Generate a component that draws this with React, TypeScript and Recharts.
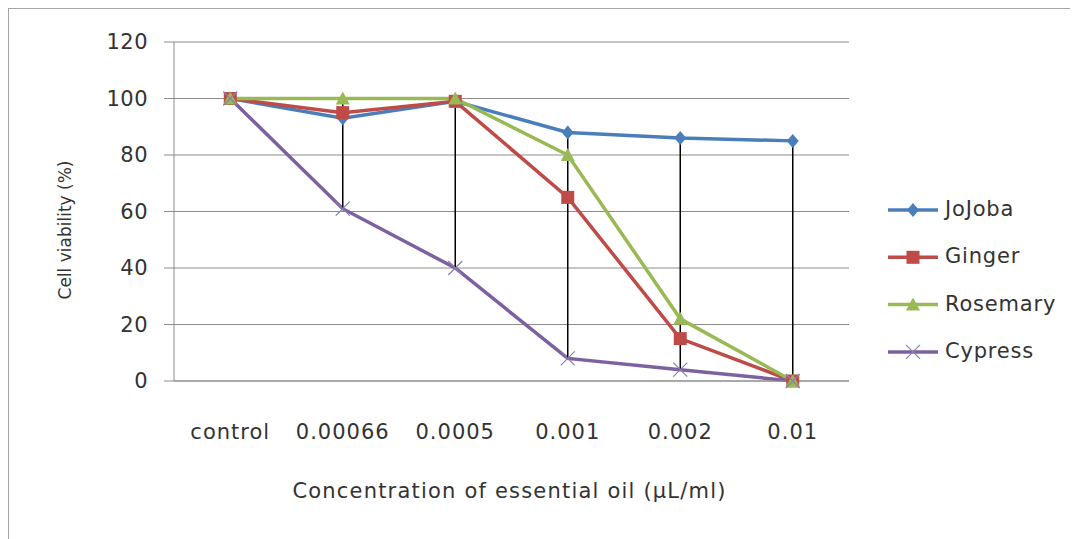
import React from 'react';
import { ComposedChart, Line, XAxis, YAxis, CartesianGrid, ErrorBar } from 'recharts';

const categories = ['control', '0.00066', '0.0005', '0.001', '0.002', '0.01'];
const jojoba = [100, 93, 99, 88, 86, 85];
const ginger = [100, 95, 99, 65, 15, 0];
const rosemary = [100, 100, 100, 80, 22, 0];
const cypress = [100, 61, 40, 8, 4, 0];
const yTicks = [0, 20, 40, 60, 80, 100, 120];
const seriesNames = ['JoJoba', 'Ginger', 'Rosemary', 'Cypress'];
const seriesColors = ['#4a7ebb', '#be4b48', '#98b954', '#7d60a0'];

const allSeries = [jojoba, ginger, rosemary, cypress];

const data = categories.map((name, i) => {
  const vals = allSeries.map((s) => s[i]);
  const hi = Math.max(...vals);
  const lo = Math.min(...vals);
  return {
    name,
    JoJoba: jojoba[i],
    Ginger: ginger[i],
    Rosemary: rosemary[i],
    Cypress: cypress[i],
    mid: (hi + lo) / 2,
    half: (hi - lo) / 2,
  };
});

const FONT = '"DejaVu Sans", sans-serif';

function Marker({ kind, cx, cy, color }: { kind: number; cx: number; cy: number; color: string }) {
  if (kind === 0) {
    return <polygon points={`${cx},${cy - 7} ${cx + 6},${cy} ${cx},${cy + 7} ${cx - 6},${cy}`} fill={color} />;
  }
  if (kind === 1) {
    return <rect x={cx - 6.5} y={cy - 6.5} width={13} height={13} fill={color} />;
  }
  if (kind === 2) {
    return <polygon points={`${cx},${cy - 7} ${cx + 7},${cy + 6} ${cx - 7},${cy + 6}`} fill={color} />;
  }
  return (
    <g stroke="#8c7fae" strokeWidth={1.2}>
      <line x1={cx - 7} y1={cy - 7} x2={cx + 7} y2={cy + 7} />
      <line x1={cx - 7} y1={cy + 7} x2={cx + 7} y2={cy - 7} />
    </g>
  );
}

const makeDot = (kind: number, color: string) => (props: any) => {
  const { cx, cy, index } = props;
  if (cx == null || cy == null) return <g key={`d-${kind}-${index}`} />;
  return (
    <g key={`d-${kind}-${index}`}>
      <Marker kind={kind} cx={cx} cy={cy} color={color} />
    </g>
  );
};

export default function App() {
  return (
    <div style={{ position: 'relative', width: 1070, height: 531, background: '#fff' }}>
      <div
        style={{
          position: 'absolute',
          left: -1,
          top: -1,
          width: 1080,
          height: 540,
          borderLeft: '2px solid #a6a6a6',
          borderTop: '2px solid #a6a6a6',
        }}
      />
      <ComposedChart
        width={1070}
        height={531}
        data={data}
        margin={{ top: 34, right: 229, left: 0, bottom: 58 }}
      >
        <CartesianGrid horizontal vertical={false} stroke="#8c8c8c" strokeWidth={1} />
        <XAxis
          dataKey="name"
          scale="band"
          tickLine={false}
          tickSize={0}
          tickMargin={43}
          height={100}
          axisLine={{ stroke: '#8c8c8c' }}
          tick={{ fontSize: 21, fill: '#333', fontFamily: FONT, letterSpacing: 1 }}
          label={{
            content: (p: any) => {
              const vb = p.viewBox;
              return (
                <text
                  x={vb.x + vb.width / 2 - 2}
                  y={484}
                  textAnchor="middle"
                  dominantBaseline="middle"
                  fontSize={21}
                  letterSpacing={1.2}
                  fill="#333"
                  fontFamily={FONT}
                >
                  Concentration of essential oil (μL/ml)
                </text>
              );
            },
          }}
        />
        <YAxis
          width={166}
          domain={[0, 120]}
          ticks={yTicks}
          interval={0}
          tickSize={10}
          tickMargin={16}
          tickLine={{ stroke: '#8c8c8c' }}
          axisLine={{ stroke: '#8c8c8c' }}
          tick={{ fontSize: 21, fill: '#333', fontFamily: FONT, letterSpacing: 0.5 }}
          label={{
            content: () => (
              <text
                x={58}
                y={222}
                textAnchor="middle"
                dominantBaseline="middle"
                fontSize={17}
                fill="#333"
                fontFamily={FONT}
                transform="rotate(-90 58 222)"
              >
                Cell viability (%)
              </text>
            ),
          }}
        />
        {seriesNames.map((n, k) => (
          <Line
            key={n}
            type="linear"
            dataKey={n}
            stroke={seriesColors[k]}
            strokeWidth={3.5}
            dot={makeDot(k, seriesColors[k])}
            activeDot={false}
            isAnimationActive={false}
          />
        ))}
        <Line
          dataKey="mid"
          stroke="none"
          dot={false}
          activeDot={false}
          legendType="none"
          isAnimationActive={false}
        >
          <ErrorBar dataKey="half" direction="y" width={0} stroke="#000" strokeWidth={1.5} />
        </Line>
      </ComposedChart>
      <svg
        style={{ position: 'absolute', left: 880, top: 180 }}
        width={190}
        height={200}
      >
        {seriesNames.map((n, k) => {
          const y = 22 + k * 47.3;
          return (
            <g key={n}>
              <line x1={0} y1={y} x2={50} y2={y} stroke={seriesColors[k]} strokeWidth={3.5} />
              <Marker kind={k} cx={25} cy={y} color={seriesColors[k]} />
              <text x={57} y={y} dominantBaseline="middle" fontSize={21} letterSpacing={0.8} fill="#333" fontFamily={FONT}>
                {n}
              </text>
            </g>
          );
        })}
      </svg>
    </div>
  );
}
